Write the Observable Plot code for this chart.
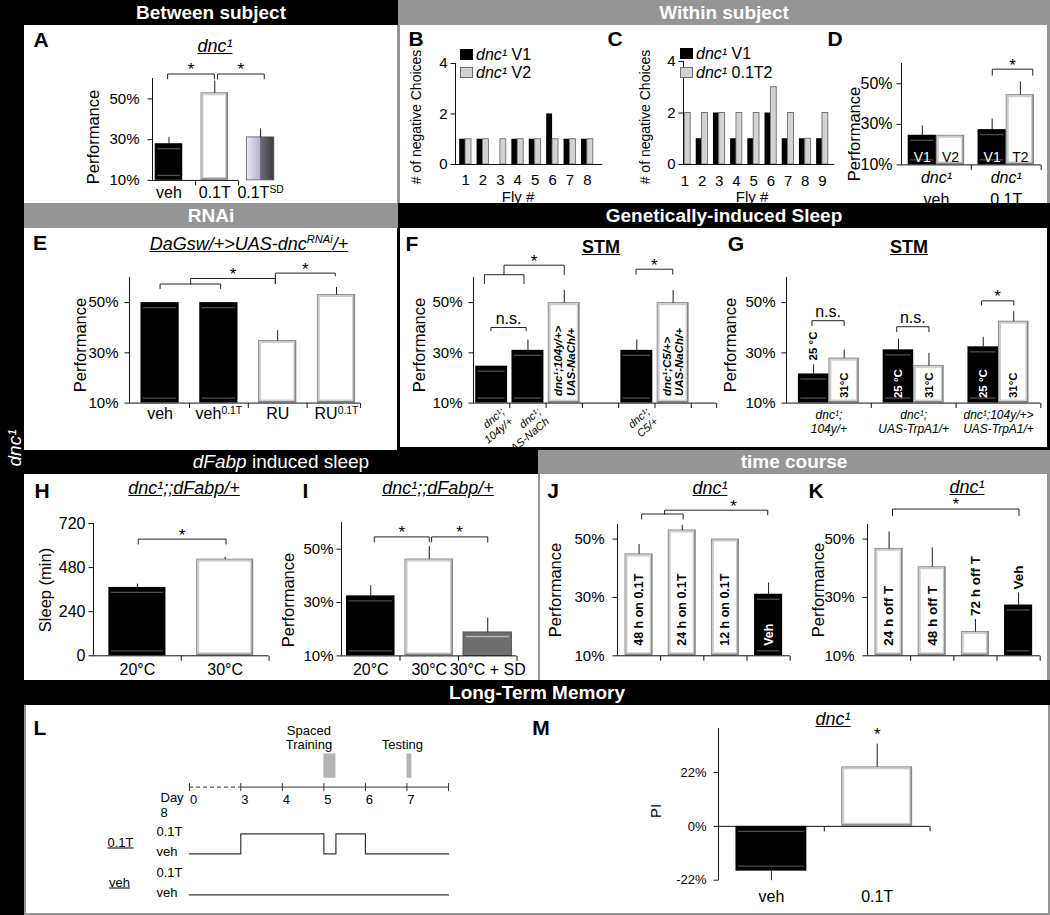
<!DOCTYPE html>
<html><head><meta charset="utf-8">
<script src="https://cdn.jsdelivr.net/npm/d3@7"></script>
<script src="https://cdn.jsdelivr.net/npm/@observablehq/plot@0.6"></script>
<style>
body{margin:0;background:#fff;}
#fig{position:relative;width:1050px;height:915px;overflow:hidden;background:#fff;font-family:'Liberation Sans',Arial,Helvetica,sans-serif;color:#000;}
#fig svg{position:absolute;overflow:visible;background:transparent;}
.h{position:absolute;display:flex;align-items:center;justify-content:center;font-weight:bold;font-size:19px;color:#fff;white-space:nowrap;}
.t{position:absolute;white-space:nowrap;transform:translate(-50%,-50%);line-height:1;}
.rot{transform:translate(-50%,-50%) rotate(-90deg);}
.l{position:absolute;white-space:nowrap;transform:translateY(-50%);line-height:1;}
sup{font-size:62%;vertical-align:super;line-height:0;}
</style></head><body><div id="fig"></div>
<svg width="0" height="0" style="position:absolute"><defs>
<linearGradient id="sdgrad" x1="0" x2="1" y1="0" y2="0">
<stop offset="0" stop-color="#ececf6"/><stop offset="0.48" stop-color="#b4b4cc"/><stop offset="0.52" stop-color="#6c6c74"/><stop offset="1" stop-color="#3c3c42"/>
</linearGradient></defs></svg>
<script>
// ================= DATA =================
// A  Between subject
const A_groups = ["veh", "0.1T", "0.1T^{SD}"];
const A_perf = [28, 53, 31.1];
const A_sem = [3.3, 6.0, 4.4];
// B  Within subject, V1 vs V2
const B_flies = [1, 2, 3, 4, 5, 6, 7, 8];
const B_V1 = [1, 1, 0, 1, 1, 2, 1, 1];
const B_V2 = [1, 1, 1, 1, 1, 1, 1, 1];
// C  Within subject, V1 vs 0.1T2
const C_flies = [1, 2, 3, 4, 5, 6, 7, 8, 9];
const C_V1 = [0, 1, 2, 1, 1, 2, 1, 1, 1];
const C_T2 = [2, 2, 2, 2, 2, 3, 2, 1, 2];
// D
const D_groups = ["veh", "0.1T"];
const D_first = [24.6, 27.4], D_firstSem = [4.9, 5.4], D_firstName = ["V1", "V1"];
const D_second = [24.6, 44.6], D_secondSem = [0, 6.5], D_secondName = ["V2", "T2"];
// E  RNAi
const E_groups = ["veh", "veh^{0.1T}", "RU", "RU^{0.1T}"];
const E_perf = [50, 50, 34.9, 53.2];
const E_sem = [0, 0, 4.1, 3.0];
// F  STM, NaChBac
const F_genotypes = ["dnc¹;\n104y/+", "dnc¹;\nUAS-NaCh", "dnc¹;104y/+>\nUAS-NaCh/+", null, "dnc¹;\nC5/+", "dnc¹;C5/+>\nUAS-NaCh/+"];
const F_perf = [24.7, 31.0, 50.0, null, 31.0, 50.0];
const F_sem = [0, 4.3, 5.0, null, 4.3, 5.0];
// G  STM, TrpA1
const G_genotypes = ["dnc¹;\n104y/+", "dnc¹;\nUAS-TrpA1/+", "dnc¹;104y/+>\nUAS-TrpA1/+"];
const G_temps = ["25 °C", "31°C"];
const G_25 = [21.6, 31.2, 32.4], G_25sem = [3.8, 4.4, 4.0];
const G_31 = [27.9, 25.0, 42.6], G_31sem = [3.4, 5.0, 4.0];
// H, I  dFabp
const H_temps = ["20°C", "30°C"];
const H_sleep = [372, 526], H_sem = [21, 13];
const I_conds = ["20°C", "30°C", "30°C + SD"];
const I_perf = [32.5, 46.3, 18.8], I_sem = [4.0, 4.9, 5.6];
// J, K  time course
const J_conds = ["48 h on 0.1T", "24 h on 0.1T", "12 h on 0.1T", "Veh"];
const J_perf = [44.9, 53.1, 50.0, 31.1], J_sem = [3.4, 1.8, 0, 4.0];
const K_conds = ["24 h off T", "48 h off T", "72 h off T", "Veh"];
const K_perf = [46.8, 40.5, 18.3, 27.4], K_sem = [5.8, 6.6, 4.3, 4.3];
// L  protocol
const L_days = [0, 3, 4, 5, 6, 7, 8];
const L_levels = ["0.1T", "veh"];
const L_events = [{name: "Spaced\nTraining", start: 5, end: 5.29}, {name: "Testing", start: 7, end: 7.12}];
const L_sched01T = [[0, "veh"], [3, "0.1T"], [5, "veh"], [5.29, "0.1T"], [6, "veh"], [8, "veh"]];
const L_schedVeh = [[0, "veh"], [8, "veh"]];
// M  LTM
const M_groups = ["veh", "0.1T"];
const M_PI = [-18.3, 24.3], M_sem = [3.7, 9.5];

// significance brackets (data units)
const A_sig = [{x1: 0.97, x2: 1.99, y: 62.2, dl: 2.4, dr: 2.4, label: "*"}, {x1: 2.06, x2: 3.08, y: 62.2, dl: 2.4, dr: 2.4, label: "*"}];
const D_sig = [{x1: 1.8, x2: 2.38, y: 57.2, dl: 3, dr: 3, label: "*"}];
const E_sig = [{x1: 1.0, x2: 2.03, y: 57.4, dl: 1.8, dr: 1.8}, {x1: 1.52, x2: 2.96, y: 59.6, dl: 2.2, dr: 2.1, label: "*"}, {x1: 2.96, x2: 3.98, y: 61.75, dl: 4.2, dr: 1.05, label: "*"}];
const F_sig = [{x1: 0.98, x2: 1.95, y: 40.1, dl: 1.3, dr: 1.3, label: "n.s."}, {x1: 0.8, x2: 1.89, y: 61.1, dl: 3.5, dr: 3.5}, {x1: 1.34, x2: 3.0, y: 64.9, dl: 3.8, dr: 3.8, label: "*"}, {x1: 4.98, x2: 5.99, y: 63.3, dl: 2, dr: 2, label: "*"}];
const G_sig = [{x1: 0.8, x2: 1.18, y: 42.8, dl: 2, dr: 2, label: "n.s."}, {x1: 1.8, x2: 2.18, y: 40.4, dl: 2, dr: 2, label: "n.s."}, {x1: 2.8, x2: 3.18, y: 50.7, dl: 1.7, dr: 1.7, label: "*"}];
const H_sig = [{x1: 1.01, x2: 2.01, y: 635, dl: 27, dr: 27, label: "*"}];
const I_sig = [{x1: 1.06, x2: 2.0, y: 54.6, dl: 1.9, dr: 1.9, label: "*"}, {x1: 2.04, x2: 3.0, y: 54.6, dl: 1.9, dr: 1.9, label: "*"}];
const J_sig = [{x1: 1.06, x2: 2.02, y: 58.6, dl: 1.7, dr: 1.7}, {x1: 1.59, x2: 3.98, y: 59.9, dl: 1.4, dr: 1.6, label: "*", lx: 3.19}];
const K_sig = [{x1: 1.08, x2: 4.01, y: 60.3, dl: 2.3, dr: 2.3, label: "*"}];

// bar styles
const A_style = ["black", "white", "sd"];
const E_style = ["black", "black", "white", "white"];
const F_style = ["black", "black", "white", null, "black", "white"];
const F_labelInBar = [false, false, true, false, false, true];
const G_25inside = [false, true, true];
const H_style = ["black", "white"];
const I_style = ["black", "white", "dgray"];
const J_style = ["white", "white", "white", "black"], J_inside = [true, true, true, true];
const K_style = ["white", "white", "white", "black"], K_inside = [true, true, false, false];
const M_style = ["black", "white"];

// ================= HELPERS =================
const FONT = "'Liberation Sans', Arial, Helvetica, sans-serif";
const root = document.getElementById("fig");
const NS = "http://www.w3.org/2000/svg";
const pct = d => d + "%";

function markup(svg) {
  const nodes = Array.from(svg.querySelectorAll("text, tspan"));
  for (const node of nodes) {
    if (node.children.length) continue;
    const s = node.textContent;
    if (!/[\^]|<\/?[ib]>/.test(s)) continue;
    node.textContent = "";
    const re = /(<i>|<\/i>|<b>|<\/b>|\^\{[^}]*\})/g;
    let it = false, bd = false, last = 0, m;
    const add = (txt, sup) => {
      if (!txt) return;
      const t = document.createElementNS(NS, "tspan");
      if (it) t.setAttribute("font-style", "italic");
      if (bd) t.setAttribute("font-weight", "bold");
      if (sup) { t.setAttribute("baseline-shift", "super"); t.setAttribute("font-size", "65%"); }
      t.textContent = txt;
      node.appendChild(t);
    };
    while ((m = re.exec(s))) {
      add(s.slice(last, m.index));
      const tok = m[0];
      if (tok === "<i>") it = true; else if (tok === "</i>") it = false;
      else if (tok === "<b>") bd = true; else if (tok === "</b>") bd = false;
      else add(tok.slice(2, -1), true);
      last = re.lastIndex;
    }
    add(s.slice(last));
  }
}

function panel(frame, xd, yd, build) {
  const [fx0, fx1, fy0, fy1] = frame;
  const P = 80;
  const c = {xd, yd, kx: (xd[1] - xd[0]) / (fx1 - fx0), ky: (yd[1] - yd[0]) / (fy1 - fy0)};
  const svg = Plot.plot({
    width: fx1 - fx0 + 2 * P, height: fy1 - fy0 + 2 * P,
    marginLeft: P, marginRight: P, marginTop: P, marginBottom: P,
    x: {type: "linear", domain: xd, axis: null},
    y: {type: "linear", domain: yd, axis: null},
    style: {background: "transparent", overflow: "visible", fontFamily: FONT, fontSize: "15px", color: "black"},
    marks: build(c)
  });
  svg.style.left = (fx0 - P) + "px";
  svg.style.top = (fy0 - P) + "px";
  root.appendChild(svg);
  markup(svg);
}

function yAxis(c, ticks, fmt, o = {}) {
  const x0 = c.xd[0];
  return [
    Plot.ruleX([x0], {y1: c.yd[0], y2: c.yd[1], stroke: "#111", strokeWidth: 1}),
    Plot.link(ticks, {x1: x0, x2: x0 - 5 * c.kx, y1: d => d, y2: d => d, stroke: "#111"}),
    Plot.text(ticks, {x: x0, y: d => d, text: fmt, textAnchor: "end", dx: o.dx ?? -11, fontSize: o.fontSize ?? 15})
  ];
}
function xAxis(c, from, to, ticks, at) {
  return [
    Plot.ruleY([at], {x1: from, x2: to, stroke: "#111", strokeWidth: 1}),
    Plot.link(ticks, {x1: d => d, x2: d => d, y1: at, y2: at - 5 * c.ky, stroke: "#111"})
  ];
}
function bars(c, rows, base, w) {
  const R = rows.filter(r => r.v != null && r.v !== base).map(r => ({...r, x1: r.x - w / 2, x2: r.x + w / 2, lo: Math.min(base, r.v), hi: Math.max(base, r.v)}));
  const by = s => R.filter(r => r.s === s);
  const rect = (s, o) => Plot.rect(by(s), {x1: "x1", x2: "x2", y1: "lo", y2: "hi", ...o});
  const inX1 = r => r.x1 + 2.5 * c.kx, inX2 = r => r.x2 - 2.5 * c.kx;
  const E = R.filter(r => r.e > 0);
  return [
    rect("solid", {fill: "#000"}),
    rect("black", {fill: "#000"}),
    Plot.ruleY(by("black"), {y: "hi", x1: inX1, x2: inX2, dy: 5, stroke: "#4d4d4d", strokeWidth: 1.3}),
    Plot.ruleY(by("black"), {y: "lo", x1: inX1, x2: inX2, dy: -5, stroke: "#4d4d4d", strokeWidth: 1.3}),
    rect("white", {fill: "#858585"}),
    rect("white", {fill: "#cdcdcd", insetTop: 0.8, insetLeft: 0.8, insetRight: 1.6, insetBottom: 1.6}),
    rect("white", {fill: "#fff", inset: 3}),
    rect("sd", {fill: "url(#sdgrad)", stroke: "#5a5a5a", strokeWidth: 0.8}),
    rect("dgray", {fill: "#6e6e6e", stroke: "#4a4a4a", strokeWidth: 0.8}),
    Plot.ruleY(by("dgray"), {y: "hi", x1: inX1, x2: inX2, dy: 4, stroke: "#b5b5b5", strokeWidth: 1.5}),
    rect("lgray", {fill: "#d2d2d2", stroke: "#6f6f6f", strokeWidth: 0.9}),
    Plot.link(E, {x1: "x", x2: "x", y1: "v", y2: r => r.v + Math.sign(r.v - base) * r.e, stroke: "#1a1a1a", strokeWidth: 1})
  ];
}
function sig(c, list, fs = 16) {
  const pts = list.flatMap((b, i) => [
    {i, x: b.x1, y: b.y - b.dl}, {i, x: b.x1, y: b.y}, {i, x: b.x2, y: b.y}, {i, x: b.x2, y: b.y - b.dr}]);
  const lx = b => b.lx ?? (b.x1 + b.x2) / 2;
  return [
    Plot.line(pts, {x: "x", y: "y", z: "i", stroke: "#222", strokeWidth: 1}),
    Plot.text(list.filter(b => b.label === "*"), {x: lx, y: "y", text: "label", dy: -4, fontSize: fs + 1}),
    Plot.text(list.filter(b => b.label && b.label !== "*"), {x: lx, y: "y", text: "label", dy: -9, fontSize: fs})
  ];
}

// ================= PANELS =================
// A
panel([152, 283, 78.4, 180.3], [0.64, 3.5], [10, 60], c => {
  const rows = A_groups.map((g, i) => ({x: i + 1, v: A_perf[i], e: A_sem[i], s: A_style[i], g}));
  return [
    ...bars(c, rows, 10, 0.6),
    ...yAxis(c, [10, 30, 50], pct, {dx: -13}),
    ...xAxis(c, 0.64, 2.52, [1.58, 2.52], 10),
    Plot.text(rows, {x: "x", y: 10, text: "g", lineAnchor: "top", dy: 6, fontSize: 16}),
    ...sig(c, A_sig)
  ];
});
// B
panel([455.1, 602.3, 63.3, 164.3], [0.42, 8.88], [0, 4], c => {
  const rows = [
    ...B_flies.map((f, i) => ({x: f - 0.17, v: B_V1[i], s: "solid"})),
    ...B_flies.map((f, i) => ({x: f + 0.17, v: B_V2[i], s: "lgray"}))];
  return [
    ...bars(c, rows, 0, 0.34),
    ...yAxis(c, [0, 2, 4], String, {dx: -8, fontSize: 15}),
    ...xAxis(c, 0.42, 8.88, [], 0),
    Plot.text(B_flies, {x: d => d, y: 0, text: String, lineAnchor: "top", dy: 10, fontSize: 15})
  ];
});
// C
panel([683.2, 834.4, 61, 164], [0.92, 9.71], [0, 4], c => {
  const rows = [
    ...C_flies.map((f, i) => ({x: f - 0.17, v: C_V1[i], s: "solid"})),
    ...C_flies.map((f, i) => ({x: f + 0.17, v: C_T2[i], s: "lgray"}))];
  return [
    ...bars(c, rows, 0, 0.34),
    ...yAxis(c, [0, 2, 4], String, {dx: -8, fontSize: 15}),
    ...xAxis(c, 0.92, 9.71, [], 0),
    Plot.text(C_flies, {x: d => d, y: 0, text: String, lineAnchor: "top", dy: 11, fontSize: 15})
  ];
});
// D
panel([900.8, 1040.5, 63.3, 164.7], [0.5, 2.5], [10, 60], c => {
  const rows = [
    ...D_groups.map((g, i) => ({x: i + 1 - 0.202, v: D_first[i], e: D_firstSem[i], s: "black", n: D_firstName[i]})),
    ...D_groups.map((g, i) => ({x: i + 1 + 0.202, v: D_second[i], e: D_secondSem[i], s: "white", n: D_secondName[i]}))];
  return [
    ...bars(c, rows, 10, 0.404),
    ...yAxis(c, [10, 30, 50], pct, {dx: -9, fontSize: 16}),
    ...xAxis(c, 0.5, 2.5, [1.5, 2.5], 10),
    Plot.text(rows.filter(r => r.s === "black"), {x: "x", y: 10, text: "n", fill: "white", lineAnchor: "bottom", dy: -3, fontSize: 14}),
    Plot.text(rows.filter(r => r.s !== "black"), {x: "x", y: 10, text: "n", fill: "black", lineAnchor: "bottom", dy: -3, fontSize: 14}),
    Plot.text(D_groups, {x: (d, i) => i + 1, y: 10, text: d => "<i>dnc¹</i>\n" + d, lineAnchor: "top", dy: 3, fontSize: 16, lineHeight: 1.35}),
    ...sig(c, D_sig)
  ];
});
// E
panel([129.4, 365.8, 276.7, 402.3], [0.48, 4.5], [10, 60], c => {
  const rows = E_groups.map((g, i) => ({x: i + 1, v: E_perf[i], e: E_sem[i], s: E_style[i], g}));
  return [
    ...bars(c, rows, 10, 0.65),
    ...yAxis(c, [10, 30, 50], pct, {dx: -11}),
    ...xAxis(c, 0.48, 4.41, [1.5, 2.5, 3.5, 4.41], 10),
    Plot.text(rows, {x: "x", y: 10, text: "g", lineAnchor: "top", dy: 5, fontSize: 16}),
    ...sig(c, E_sig)
  ];
});
// F
panel([473, 716.2, 276.7, 402.3], [0.5, 7.2], [10, 60], c => {
  const rows = F_perf.map((v, i) => ({x: i + 1, v, e: F_sem[i], s: F_style[i], g: F_genotypes[i], inBar: F_labelInBar[i]})).filter(r => r.v != null);
  return [
    ...bars(c, rows, 10, 0.88),
    ...yAxis(c, [10, 30, 50], pct, {dx: -11}),
    ...xAxis(c, 0.5, 7.2, [1.5, 2.5, 3.5, 4.5, 5.5, 6.5, 7.2], 10),
    Plot.text(rows.filter(r => r.inBar), {x: "x", y: 10, text: "g", rotate: -90, textAnchor: "start", lineAnchor: "middle", dy: -7, fontSize: 11.5, fontWeight: "bold", fontStyle: "italic", lineHeight: 1.1}),
    Plot.text(rows.filter(r => !r.inBar), {x: "x", y: 10, text: "g", rotate: -40, textAnchor: "end", lineAnchor: "top", dx: 8, dy: 3, fontSize: 11, fontStyle: "italic", lineHeight: 1.15}),
    ...sig(c, F_sig)
  ];
});
// G
panel([785.6, 1040, 276.7, 402.3], [0.5, 3.5], [10, 60], c => {
  const rows = [
    ...G_genotypes.map((g, i) => ({x: i + 1 - 0.18, v: G_25[i], e: G_25sem[i], s: "black", t: G_temps[0], inside: G_25inside[i]})),
    ...G_genotypes.map((g, i) => ({x: i + 1 + 0.18, v: G_31[i], e: G_31sem[i], s: "white", t: G_temps[1], inside: true}))];
  const tl = {x: "x", text: "t", rotate: -90, textAnchor: "start", lineAnchor: "middle", fontSize: 11.5, fontWeight: "bold"};
  return [
    ...bars(c, rows, 10, 0.36),
    ...yAxis(c, [10, 30, 50], pct, {dx: -11}),
    ...xAxis(c, 0.5, 3.5, [1.5, 2.5, 3.5], 10),
    Plot.text(rows.filter(r => r.inside && r.s === "black"), {...tl, y: 10, dy: -5, fill: "white"}),
    Plot.text(rows.filter(r => r.inside && r.s !== "black"), {...tl, y: 10, dy: -5, fill: "black"}),
    Plot.text(rows.filter(r => !r.inside), {...tl, y: r => r.v + r.e, dy: -4, fill: "black"}),
    Plot.text(G_genotypes, {x: (d, i) => i + 1, y: 10, text: d => d, lineAnchor: "top", dy: 6, fontSize: 12, fontStyle: "italic", lineHeight: 1.17}),
    ...sig(c, G_sig)
  ];
});
// H
panel([93, 268.6, 522.7, 655], [0.5, 2.5], [0, 720], c => {
  const rows = H_temps.map((t, i) => ({x: i + 1, v: H_sleep[i], e: H_sem[i], s: H_style[i], t}));
  return [
    ...bars(c, rows, 0, 0.65),
    ...yAxis(c, [0, 240, 480, 720], String, {dx: -8, fontSize: 16}),
    ...xAxis(c, 0.5, 2.5, [1.5, 2.5], 0),
    Plot.text(rows, {x: "x", y: 0, text: "t", lineAnchor: "top", dy: 8, fontSize: 16}),
    ...sig(c, H_sig)
  ];
});
// I
panel([341, 516.5, 521.6, 655], [0.5, 3.5], [10, 60], c => {
  const rows = I_conds.map((t, i) => ({x: i + 1, v: I_perf[i], e: I_sem[i], s: I_style[i], t}));
  return [
    ...bars(c, rows, 10, 0.83),
    ...yAxis(c, [10, 30, 50], pct, {dx: -8, fontSize: 15}),
    ...xAxis(c, 0.5, 3.5, [1.5, 2.5, 3.5], 10),
    Plot.text(rows, {x: "x", y: 10, text: "t", lineAnchor: "top", dy: 8, fontSize: 16}),
    ...sig(c, I_sig)
  ];
});
// J, K
function timeCourse(frame, conds, perf, sem, style, inside, fs, sigList) {
  panel(frame, [0.5, 4.5], [10, 55], c => {
    const rows = conds.map((t, i) => ({x: i + 1, v: perf[i], e: sem[i], s: style[i], t, inside: inside[i]}));
    const tl = {x: "x", text: "t", rotate: -90, textAnchor: "start", lineAnchor: "middle", fontSize: fs, fontWeight: "bold"};
    return [
      ...bars(c, rows, 10, 0.65),
      ...yAxis(c, [10, 30, 50], pct, {dx: -13, fontSize: 15}),
      ...xAxis(c, 0.5, 4.5, [1.5, 2.5, 3.5, 4.5], 10),
      Plot.text(rows.filter(r => r.inside && r.s === "black"), {...tl, y: 10, dy: -10, fill: "white"}),
      Plot.text(rows.filter(r => r.inside && r.s !== "black"), {...tl, y: 10, dy: -10, fill: "black"}),
      Plot.text(rows.filter(r => !r.inside), {...tl, y: r => r.v + r.e, dy: -3, fill: "black"}),
      ...sig(c, sigList)
    ];
  });
}
timeCourse([617.3, 790, 523.7, 655], J_conds, J_perf, J_sem, J_style, J_inside, 12.5, J_sig);
timeCourse([867.3, 1040, 523.7, 655], K_conds, K_perf, K_sem, K_style, K_inside, 13.5, K_sig);
// M
panel([717.7, 929.3, 728.3, 880], [0.5, 2.5], [-22, 40], c => {
  const rows = M_groups.map((g, i) => ({x: i + 1, v: M_PI[i], e: M_sem[i], s: M_style[i], g}));
  return [
    ...bars(c, rows, 0, 0.67),
    ...yAxis(c, [-22, 0, 22], pct, {dx: -12, fontSize: 13}),
    ...xAxis(c, 0.5, 2.5, [1.5, 2.5], 0),
    Plot.text(rows, {x: "x", y: -22, text: "g", lineAnchor: "top", dy: 10, fontSize: 16}),
    Plot.text(rows.filter(r => r.v > 0), {x: "x", y: r => r.v + r.e, text: () => "*", dy: -9, fontSize: 17})
  ];
});
// L  protocol timeline
const dayPos = d => d >= 3 ? d : 3 - (3 - d) * 1.235 / 3;
panel([188.7, 447.7, 705, 905], [dayPos(0), 8], [10, 0], c => {
  const LANE = {evTop: 2.42, evBot: 3.64, axis: 4.08, g1: {"0.1T": 6.42, veh: 7.42}, g2: {"0.1T": 8.45, veh: 9.47}};
  const L_eventDx = [-21, -7];
  const toPts = (sched, g, id) => sched.map(([d, lvl]) => ({id, x: dayPos(d), y: g[lvl]}));
  const levelLabels = [
    ...L_levels.map(l => ({t: l, y: LANE.g1[l]})),
    ...L_levels.map(l => ({t: l, y: LANE.g2[l]}))];
  return [
    Plot.rect(L_events, {x1: d => dayPos(d.start), x2: d => dayPos(d.end), y1: LANE.evTop, y2: LANE.evBot, fill: "#b5b5b5"}),
    Plot.text(L_events, {x: (d, i) => (dayPos(d.start) + dayPos(d.end)) / 2 + L_eventDx[i] * c.kx, y: LANE.evTop, text: "name", lineAnchor: "bottom", dy: -5, fontSize: 13, lineHeight: 1.1}),
    Plot.ruleY([LANE.axis], {x1: dayPos(0), x2: 3, stroke: "#333", strokeDasharray: "4,3"}),
    Plot.ruleY([LANE.axis], {x1: 3, x2: 8, stroke: "#333"}),
    Plot.link(L_days, {x1: dayPos, x2: dayPos, y1: LANE.axis - 0.2, y2: LANE.axis + 0.2, stroke: "#333"}),
    Plot.text(L_days.slice(0, -1), {x: dayPos, y: LANE.axis, text: String, dx: 4, dy: 12.3, fontSize: 13}),
    Plot.text(["Day\n" + L_days[L_days.length - 1]], {x: dayPos(0), y: LANE.axis, text: d => d, textAnchor: "start", lineAnchor: "top", dx: -29, dy: 5, fontSize: 13, lineHeight: 1.1}),
    Plot.line([...toPts(L_sched01T, LANE.g1, "a"), ...toPts(L_schedVeh, LANE.g2, "b")], {x: "x", y: "y", z: "id", curve: "step-after", stroke: "#333", strokeWidth: 1.2}),
    Plot.text(levelLabels, {x: dayPos(0), y: "y", text: "t", textAnchor: "start", dx: -33, dy: -2, fontSize: 13})
  ];
});

// ================= FRAMES, HEADERS, TEXT =================
function box(x, y, w, h, css) {
  const d = document.createElement("div");
  d.style.cssText = `position:absolute;left:${x}px;top:${y}px;width:${w}px;height:${h}px;box-sizing:border-box;${css}`;
  root.appendChild(d); return d;
}
function header(x0, x1, y0, y1, html, bg, css = "") {
  const d = box(x0, y0, x1 - x0, y1 - y0, `background:${bg};` + css);
  d.className = "h"; d.innerHTML = html;
}
function txt(cls, x, y, html, css = "") {
  const d = document.createElement("div");
  d.className = cls; d.innerHTML = html;
  d.style.cssText = `left:${x}px;top:${y}px;` + css;
  root.appendChild(d); return d;
}
const GRAY = "#959595";
box(397, 25, 653, 180, `border-left:3px solid ${GRAY};border-right:3px solid ${GRAY};`);
box(397, 228, 653, 222, "border:3px solid #000;border-top:none;");
box(538, 474, 512, 206, `border-left:2.5px solid ${GRAY};border-right:3px solid ${GRAY};`);
box(24, 705, 1026, 210, `border:2.5px solid ${GRAY};border-top:none;`);
box(0, 0, 24, 915, "background:#000;");
header(0, 398, 0, 25, "Between subject", "#000", "padding-left:24px;");
header(398, 1050, 0, 25, "Within subject", GRAY);
header(24, 398, 203, 228, "RNAi", GRAY);
header(398, 1050, 203, 228, "Genetically-induced Sleep", "#000");
header(24, 538, 450, 474, "<i>dFabp</i>&nbsp;induced sleep", "#000", "font-weight:normal;");
header(538, 1050, 450, 474, "time course", GRAY);
header(24, 1050, 680, 705, "Long-Term Memory", "#000");
txt("t rot", 14, 448, "<i>dnc¹</i>", "color:#fff;font-size:19px;");

const letters = [["A", 41, 39], ["B", 416, 38], ["C", 615, 38], ["D", 835, 38], ["E", 40, 242], ["F", 412, 243], ["G", 736, 243], ["H", 42, 490], ["I", 305.5, 490], ["J", 553, 490], ["K", 816, 490], ["L", 40, 727], ["M", 541, 727]];
letters.forEach(([s, x, y]) => txt("t", x, y, s, "font-weight:bold;font-size:21px;"));

const titles = [["<i>dnc¹</i>", 215, 46], ["<i>DaGsw/+&gt;UAS-dnc<sup>RNAi</sup>/+</i>", 249, 244], ["<i>dnc¹;;dFabp/+</i>", 184, 488], ["<i>dnc¹;;dFabp/+</i>", 438, 488], ["<i>dnc¹</i>", 710, 488], ["<i>dnc¹</i>", 967, 487], ["<i>dnc¹</i>", 833, 719]];
titles.forEach(([s, x, y]) => txt("t", x, y, s, "font-size:18px;text-decoration:underline;"));
[["STM", 601, 247], ["STM", 909, 247]].forEach(([s, x, y]) => txt("t", x, y, s, "font-size:18px;font-weight:bold;text-decoration:underline;"));

const ytitles = [["Performance", 93, 137, 16.5], ["# of negative Choices", 416, 117, 14], ["# of negative Choices", 645, 117, 14], ["Performance", 854, 134, 16.5], ["Performance", 80, 345, 16.5], ["Performance", 419, 345, 16.5], ["Performance", 730, 345, 16.5], ["Sleep (min)", 45, 590, 16.5], ["Performance", 287.5, 600, 16.5], ["Performance", 555, 590, 16.5], ["Performance", 818, 590, 16.5], ["PI", 655, 811, 15]];
ytitles.forEach(([s, x, y, f]) => txt("t rot", x, y, s, `font-size:${f}px;`));

txt("t", 518, 196, "Fly #", "font-size:15px;");
txt("t", 752, 196, "Fly #", "font-size:15px;");

function legend(x, y, bg, border, html) {
  box(x, y - 5.5, 12.5, 11, `background:${bg};${border}`);
  txt("l", x + 16, y, html, "font-size:16px;");
}
legend(460, 54.5, "#000", "", "<i>dnc¹</i> V1");
legend(460, 72.5, "#d2d2d2", "border:1px solid #6f6f6f;", "<i>dnc¹</i> V2");
legend(680, 53.5, "#000", "", "<i>dnc¹</i> V1");
legend(680, 72.5, "#d2d2d2", "border:1px solid #6f6f6f;", "<i>dnc¹</i> 0.1T2");

txt("t", 120.5, 842, "0.1T", "font-size:13px;text-decoration:underline;");
txt("t", 119.5, 882, "veh", "font-size:13px;text-decoration:underline;");
</script></body></html>
